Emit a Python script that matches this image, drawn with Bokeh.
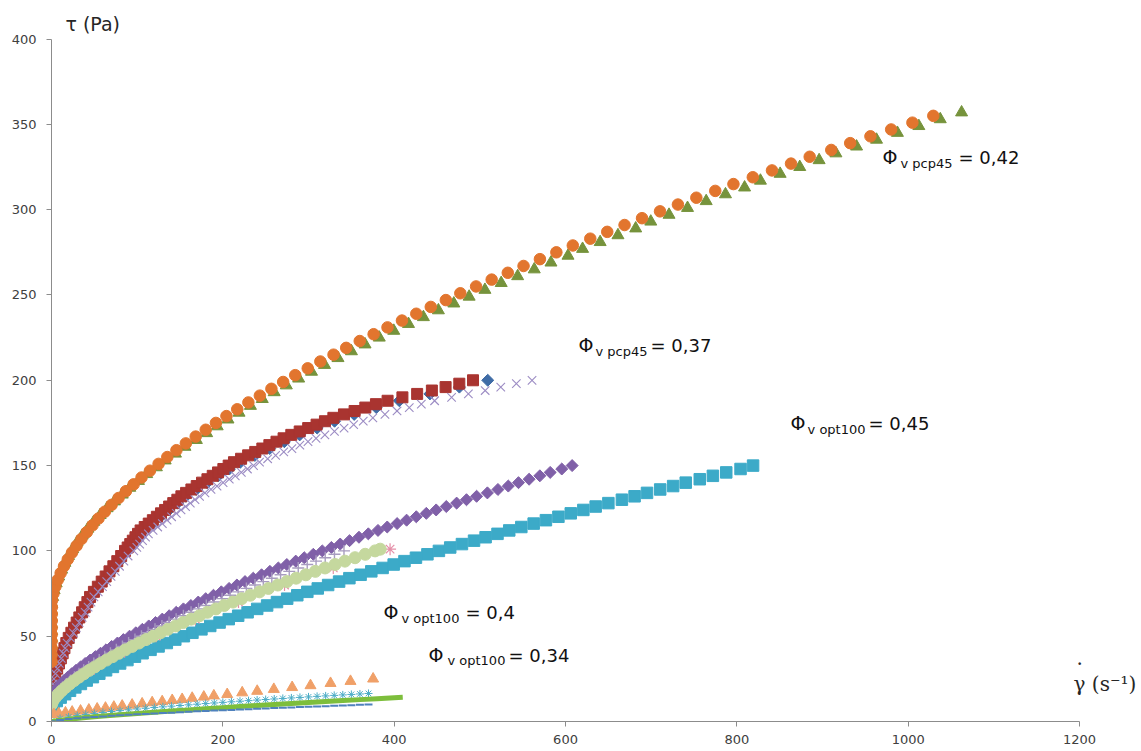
from bokeh.plotting import figure
from bokeh.models import Range1d, Label, FixedTicker
from bokeh.embed import file_html
from bokeh.resources import INLINE

# ---------------- data ----------------
x_ticks = [0, 200, 400, 600, 800, 1000, 1200]
y_ticks = [0, 50, 100, 150, 200, 250, 300, 350, 400]

# Phi_v pcp45 = 0,42 : orange circles
p42_circ_g = [0.05, 0.08, 0.1, 0.13, 0.17, 0.2, 0.25, 0.3, 0.4, 0.68, 2.23, 4.46, 7.3, 10.7, 14.6, 19.0,
              23.9, 29.3, 35.0, 41.3, 47.9, 54.9, 62.3, 70.2, 78.3, 86.9, 95.9, 105.1, 114.9, 125.0, 135.2,
              145.8, 156.8, 168.3, 180.0, 191.9, 204.2, 216.8, 229.8, 243.2, 256.7, 270.4, 284.5, 299.1,
              313.8, 329.2, 344.0, 359.8, 376.0, 392.2, 409.1, 425.8, 442.7, 460.3, 477.2, 495.6, 513.8,
              532.6, 551.0, 570.1, 589.3, 608.5, 628.9, 648.7, 668.9, 689.3, 710.3, 731.2, 752.7, 774.8,
              796.0, 818.6, 841.0, 863.2, 885.0, 910.2, 932.3, 955.9, 980.1, 1004.9, 1029.3]
p42_circ_t = [35, 39, 43, 47, 51, 55, 59, 63, 67, 71, 75, 79, 83, 87, 91, 95, 99, 103, 107, 111, 115, 119,
              123, 127, 131, 135, 139, 143, 147, 151, 155, 159, 163, 167, 171, 175, 179, 183, 187, 191, 195,
              199, 203, 207, 211, 215, 219, 223, 227, 231, 235, 239, 243, 247, 251, 255, 259, 263, 267, 271,
              275, 279, 283, 287, 291, 295, 299, 303, 307, 311, 315, 319, 323, 327, 331, 335, 339, 343, 347,
              351, 355]

# Phi_v pcp45 = 0,42 : green triangles
p42_tri_g = [0.07, 0.1, 0.12, 0.15, 0.19, 0.23, 0.28, 0.35, 0.5, 1.35, 3.1, 5.5, 8.4, 11.8, 15.6, 19.9, 24.7,
             29.9, 35.9, 42.4, 49.3, 56.8, 64.9, 73.5, 82.6, 91.4, 101.5, 111.1, 122.4, 132.7, 144.7, 155.8,
             169.1, 181.1, 193.4, 206.0, 218.9, 232.2, 246.0, 259.9, 274.1, 288.5, 303.5, 318.7, 334.4,
             350.1, 366.0, 382.6, 399.5, 416.7, 434.1, 451.6, 469.6, 487.5, 505.9, 524.9, 544.1, 563.5,
             583.0, 602.9, 619.9, 640.4, 661.2, 681.9, 699.5, 720.8, 742.4, 764.2, 786.7, 809.0, 827.5,
             850.5, 873.4, 896.0, 915.6, 939.7, 963.0, 987.4, 1012.4, 1037.4, 1062.3]
p42_tri_t = [37, 41, 45, 49, 53, 57, 61, 65, 69, 73, 77, 81, 85, 89, 93, 97, 101, 105, 109, 113, 117, 121,
             125, 129, 133, 137, 141, 145, 149, 153, 157, 161, 165, 169, 173, 177, 181, 185, 189, 193, 197,
             201, 205, 209, 213, 217, 221, 225, 229, 233, 237, 241, 245, 249, 253, 257, 261, 265, 269, 273,
             277, 281, 285, 289, 293, 297, 301, 305, 309, 313, 317, 321, 325, 329, 333, 337, 341, 345, 349,
             353, 357]

# Phi_v pcp45 = 0,37 : dark red squares
p37_sq_t = [16, 19, 22, 25, 28, 31, 34, 37, 40, 43, 46, 49, 52, 55, 58, 61, 64, 67, 70, 73, 76, 79, 82, 85,
            88, 91, 94, 97, 100, 102, 104, 106, 108, 110, 112, 114, 116, 118, 120, 122, 124, 126, 128, 130,
            132, 134, 136, 138, 140, 142, 144, 146, 148, 150, 152, 154, 156, 158, 160, 162, 164, 166, 168,
            170, 172, 174, 176, 178, 180, 182, 184, 186, 188, 190, 192, 194, 196, 198, 200]
p37_sq_g = [0.0, 0.9, 1.8, 2.7, 4.4, 6.6, 8.7, 10.9, 13.0, 15.1, 17.3, 20.1, 23.2, 26.3, 29.4, 32.5, 35.7,
            38.8, 41.9, 45.0, 49.5, 54.1, 58.6, 63.2, 67.7, 72.2, 76.8, 81.3, 85.8, 88.9, 91.9, 94.9, 98.0,
            101.0, 104.0, 108.8, 113.5, 118.3, 123.0, 127.8, 132.6, 137.3, 142.1, 146.9, 151.6, 157.1,
            163.3, 169.5, 175.7, 182.0, 188.2, 194.4, 200.6, 206.8, 213.0, 221.3, 229.5, 237.8, 246.1,
            254.3, 262.6, 270.9, 279.9, 289.7, 299.6, 309.4, 319.2, 329.0, 341.4, 353.8, 366.3, 378.7,
            392.3, 409.6, 426.8, 444.0, 460.0, 476.0, 492.0]

# Phi_v pcp45 = 0,37 : purple crosses (x)
p37_x_t = p37_sq_t
p37_x_g = [0.0, 0.95, 1.9, 2.8, 4.6, 6.9, 9.1, 11.4, 13.7, 15.9, 18.2, 22.1, 25.5, 28.9, 32.3, 35.8, 39.3,
           42.7, 46.1, 49.5, 54.5, 59.5, 64.5, 69.5, 74.5, 79.4, 84.5, 89.4, 96.1, 99.6, 102.9, 106.3, 109.8,
           113.1, 118.6, 124.0, 129.4, 134.9, 140.2, 145.7, 151.2, 156.5, 162.0, 167.5, 172.8, 179.1, 186.2,
           193.2, 200.3, 207.5, 214.5, 221.6, 228.7, 235.8, 242.8, 252.3, 261.6, 271.1, 280.6, 289.9,
           299.4, 308.8, 319.1, 330.3, 341.5, 352.7, 363.9, 375.1, 389.2, 403.3, 417.6, 431.7, 447.2,
           467.0, 486.6, 506.2, 524.4, 542.6, 560.9]

# Phi_v pcp45 = 0,37 : blue diamonds
p37_dia_t = [16, 22, 28, 34, 40, 46, 52, 58, 64, 70, 76, 82, 88, 94, 100, 104, 108, 112, 116, 120, 124, 128,
             132, 136, 140, 144, 148, 152, 156, 160, 164, 168, 172, 176, 180, 184, 188, 192, 196, 200]
p37_dia_g = [0.0, 1.9, 4.6, 9.0, 13.5, 17.9, 24.0, 30.4, 36.9, 43.4, 51.2, 60.7, 70.1, 79.5, 88.8, 95.1,
             101.4, 107.6, 117.5, 127.3, 137.2, 147.1, 156.9, 169.0, 181.8, 194.8, 207.6, 220.5, 237.5,
             254.7, 271.8, 289.7, 310.1, 330.4, 353.3, 379.1, 406.0, 441.7, 476.1, 509.2]

# Phi_v opt100 = 0,45 : purple diamonds
p45_dia_t = [14, 16, 18, 20, 22, 24, 26, 28, 30, 32, 34, 36, 38, 40, 42, 44, 46, 48, 50, 52, 54, 56, 58, 60,
             62, 64, 66, 68, 70, 72, 74, 76, 78, 80, 82, 84, 86, 88, 90, 92, 94, 96, 98, 100, 102, 104, 106,
             108, 110, 112, 114, 116, 118, 120, 122, 124, 126, 128, 130, 132, 134, 136, 138, 140, 142, 144,
             146, 148, 150]
p45_dia_g = [0.0, 1.47, 3.95, 7.05, 10.6, 14.6, 19.0, 23.6, 28.6, 33.9, 39.3, 45.1, 51.1, 57.2, 63.6, 70.2,
             77.0, 83.9, 91.1, 98.4, 106.0, 113.5, 121.4, 129.3, 137.4, 145.6, 154.0, 162.7, 171.3, 180.0,
             189.1, 198.2, 207.3, 216.4, 225.9, 235.5, 245.2, 254.9, 264.8, 274.7, 285.1, 295.0, 305.6,
             316.1, 326.7, 337.0, 347.9, 358.9, 369.8, 381.1, 391.9, 403.4, 414.5, 425.8, 437.5, 449.0,
             460.8, 472.9, 484.4, 496.2, 508.8, 521.1, 533.2, 545.1, 557.5, 570.0, 582.1, 595.6, 607.7]

# Phi_v opt100 = 0,45 : cyan squares
p45_sq_t = [8, 10, 12, 14, 16, 18, 20, 22, 24, 26, 28, 30, 32, 34, 36, 38, 40, 42, 44, 46, 48, 50, 52, 54,
            56, 58, 60, 62, 64, 66, 68, 70, 72, 74, 76, 78, 80, 82, 84, 86, 88, 90, 92, 94, 96, 98, 100, 102,
            104, 106, 108, 110, 112, 114, 116, 118, 120, 122, 124, 126, 128, 130, 132, 134, 136, 138, 140,
            142, 144, 146, 148, 150]
p45_sq_g = [0.0, 2.38, 6.16, 10.7, 15.9, 21.6, 27.8, 34.3, 41.1, 48.3, 55.8, 63.7, 71.7, 80.1, 88.6, 97.4,
            106.3, 115.6, 125.0, 134.6, 144.5, 154.5, 164.5, 175.0, 185.3, 196.2, 206.9, 217.9, 228.9,
            240.1, 251.7, 263.2, 275.1, 286.9, 298.6, 310.8, 322.9, 335.7, 347.7, 360.8, 373.3, 386.5,
            399.4, 412.0, 425.4, 438.8, 452.2, 465.4, 479.1, 493.2, 506.7, 520.6, 534.3, 548.4, 562.8,
            577.1, 591.7, 606.1, 620.8, 635.2, 650.0, 665.8, 680.6, 695.1, 710.5, 725.6, 740.3, 756.7,
            772.0, 787.6, 804.3, 818.9]

# Phi_v opt100 = 0,4 : light green, grey crosses, pink stars
p40_lg_t = [10, 12, 14, 16, 18, 20, 22, 24, 26, 28, 30, 32, 34, 36, 38, 40, 42, 44, 46, 48, 50, 52, 54, 56,
            58, 60, 62, 64, 66, 68, 70, 72, 74, 76, 78, 80, 82, 84, 86, 88, 90, 92, 94, 96, 98, 100, 101]
p40_lg_g = [0.0, 1.64, 4.42, 7.89, 11.9, 16.4, 21.2, 26.5, 32.0, 37.9, 44.1, 50.5, 57.2, 64.1, 71.3, 78.6,
            86.2, 94.1, 102.1, 110.3, 118.6, 127.2, 135.8, 144.9, 153.9, 163.1, 172.8, 182.0, 191.9, 201.7,
            211.9, 221.9, 232.1, 242.8, 253.2, 264.1, 274.8, 285.5, 296.8, 308.0, 319.3, 331.0, 342.5,
            354.3, 366.2, 377.7, 383.7]
p40_plus_t = [12, 14, 16, 18, 20, 22, 24, 26, 28, 30, 32, 34, 36, 38, 40, 42, 44, 46, 48, 50, 52, 54, 56, 58,
              60, 62, 64, 66, 68, 70, 72, 74, 76, 78, 80, 82, 84, 86, 88, 90, 92, 94, 96, 98, 100]
p40_plus_g = [0.56, 2.69, 5.58, 9.03, 12.9, 17.2, 21.9, 26.8, 32.1, 37.6, 43.4, 49.4, 55.7, 62.1, 68.8, 75.7,
              82.8, 90.0, 97.4, 105.0, 112.8, 120.8, 128.9, 137.2, 145.5, 154.0, 162.9, 171.7, 180.7, 189.8,
              199.1, 208.5, 217.9, 227.5, 237.5, 247.2, 257.2, 267.4, 277.5, 288.0, 298.5, 308.8, 319.5,
              330.3, 341.4]
p40_star_t = [20, 30, 40, 50, 60, 70, 80, 90, 101]
p40_star_g = [16.9, 45.4, 81.0, 122.2, 168.0, 218.3, 272.0, 328.9, 395.2]

# Phi_v opt100 = 0,34 : low curves
p34_tri_g = [2.7, 8.5, 16.3, 24.1, 33.9, 43.6, 53.3, 63.0, 72.8, 82.5, 94.1, 105.8, 117.5, 129.2, 140.9,
             152.5, 164.2, 177.8, 189.5, 205.1, 222.6, 240.1, 259.5, 280.9, 302.3, 325.7, 349.0, 375.4]
p34_tri_t = [4.2, 4.6, 5.1, 5.6, 6.2, 6.8, 7.4, 7.9, 8.5, 9.1, 9.7, 10.4, 11.1, 11.7, 12.4, 13.0, 13.7, 14.4,
             15.1, 15.9, 16.9, 17.8, 18.9, 20.0, 21.1, 22.4, 23.6, 25.0]
p34_star_g = [0, 10, 20, 30, 40, 50, 60, 70, 80, 90, 100, 110, 120, 130, 140, 150, 160, 170, 180, 190, 200,
              210, 220, 230, 240, 250, 260, 270, 280, 290, 300, 310, 320, 330, 340, 350, 360, 370]
p34_star_t = [0.3, 1.75, 2.69, 3.46, 4.14, 4.75, 5.32, 5.85, 6.36, 6.84, 7.3, 7.74, 8.17, 8.59, 8.99, 9.39,
              9.77, 10.14, 10.51, 10.87, 11.22, 11.56, 11.9, 12.23, 12.56, 12.88, 13.2, 13.51, 13.82, 14.12,
              14.42, 14.73, 15.01, 15.3, 15.59, 15.87, 16.14, 16.43]
p34_blue_g = p34_star_g
p34_blue_t = [0.2, 0.9, 1.45, 1.9, 2.3, 2.65, 3.0, 3.3, 3.6, 3.9, 4.2, 4.45, 4.7, 5.0, 5.2, 5.45, 5.7, 5.95,
              6.15, 6.4, 6.6, 6.8, 7.05, 7.25, 7.45, 7.65, 7.85, 8.05, 8.25, 8.45, 8.65, 8.8, 9.0, 9.2, 9.35,
              9.55, 9.75, 9.9]
p34_line_g = [0, 20, 40, 60, 80, 100, 120, 140, 160, 180, 200, 220, 240, 260, 280, 300, 320, 340, 360, 380,
              400, 410]
p34_line_t = [0, 1.35, 2.31, 3.17, 3.97, 4.72, 5.44, 6.14, 6.81, 7.47, 8.1, 8.73, 9.35, 9.95, 10.54, 11.12,
              11.69, 12.27, 12.82, 13.37, 13.91, 14.18]

# ---------------- figure ----------------
# frame: x = 0 at px 51, 1200 at px 1079 ; y = 0 at px 721, 400 at px 38.6
p = figure(width=1141, height=751, output_backend="svg", toolbar_location=None,
           x_range=Range1d(0, 1272.3), y_range=Range1d(0, 422.6),
           min_border_left=51, min_border_right=0, min_border_top=0, min_border_bottom=30)
p.outline_line_color = None
p.grid.visible = False
p.background_fill_color = "white"
p.border_fill_color = "white"

for ax in (p.xaxis[0], p.yaxis[0]):
    ax.axis_line_color = "#8c8c8c"
    ax.major_tick_line_color = "#8c8c8c"
    ax.minor_tick_line_color = None
    ax.major_tick_in = 0
    ax.major_tick_out = 5
    ax.major_label_text_font = "DejaVu Sans"
    ax.major_label_text_font_size = "13px"
    ax.major_label_text_color = "#404040"
p.xaxis.ticker = FixedTicker(ticks=x_ticks)
p.yaxis.ticker = FixedTicker(ticks=y_ticks)
p.xaxis.bounds = (0, 1200)
p.yaxis.bounds = (0, 400)
p.xaxis.major_label_standoff = 8
p.yaxis.major_label_standoff = 10

def pts(g, t, marker, color, size, line_width=1.0, fill=True, angle=0.0):
    p.scatter(g, t, marker=marker, size=size, angle=angle,
              fill_color=color if fill else None, line_color=color, line_width=line_width)

# 0,37 group
pts(p37_dia_g, p37_dia_t, "square", "#3F6CA6", 8.5, angle=0.785398)
pts(p37_sq_g, p37_sq_t, "square", "#A93430", 11)
# 0,42 group
pts(p42_tri_g, p42_tri_t, "triangle", "#76933C", 12)
pts(p37_x_g, p37_x_t, "x", "#9C8CC4", 12, line_width=1.1, fill=False)
pts(p42_circ_g, p42_circ_t, "circle", "#E2752E", 11.5)
# 0,45 / 0,4 group
pts(p45_dia_g, p45_dia_t, "square", "#8060A8", 8.5, angle=0.785398)
pts(p45_sq_g, p45_sq_t, "square", "#3CAAC8", 11.5)
pts(p40_plus_g, p40_plus_t, "cross", "#A89CC0", 12, line_width=1.4, fill=False)
pts(p40_star_g, p40_star_t, "asterisk", "#E58FA8", 12, line_width=1.2, fill=False)
pts(p40_lg_g, p40_lg_t, "circle", "#C5D89E", 12)
# 0,34 group
pts(p34_tri_g, p34_tri_t, "triangle", "#F0A068", 11)
pts(p34_star_g, p34_star_t, "asterisk", "#4BACC6", 8, line_width=1.0, fill=False)
p.line(p34_line_g, p34_line_t, line_color="#7DBE3C", line_width=5)
pts(p34_blue_g, p34_blue_t, "dash", "#4F81BD", 8, line_width=2.0, fill=False)

# ---------------- texts ----------------
def lab(x, y, text, size, font="DejaVu Sans", color="#111111", align="left"):
    p.add_layout(Label(x=x, y=y, text=text, text_font=font, text_font_size=size,
                       text_color=color, text_align=align, text_baseline="alphabetic"))

def phi(xp, yb, xs, ys, xe, sub, rest):
    lab(xp, yb, "Φ", "19px")
    lab(xs, ys, sub, "13px")
    lab(xe, yb, rest, "18px")

phi(970.0, 330.6, 991.0, 327.1, 1058.7, "v pcp45", "= 0,42")
phi(615.1, 220.4, 635.0, 216.9, 699.2, "v pcp45", "= 0,37")
phi(862.6, 174.7, 882.5, 171.2, 953.7, "v opt100", "= 0,45")
phi(387.5, 63.9, 408.5, 60.4, 483.3, "v opt100", "= 0,4")
phi(440.1, 38.7, 462.2, 35.8, 533.4, "v opt100", "= 0,34")

# axis titles
lab(16.3, 409.1, "τ (Pa)", "19px", color="#262626")
lab(1193.0, 21.7, "γ (s⁻¹)", "20px", font="DejaVu Serif", color="#262626")
lab(1200.0, 37.6, ".", "20px", font="DejaVu Serif", color="#262626", align="center")

open("out.html", "w").write(file_html(p, INLINE))
